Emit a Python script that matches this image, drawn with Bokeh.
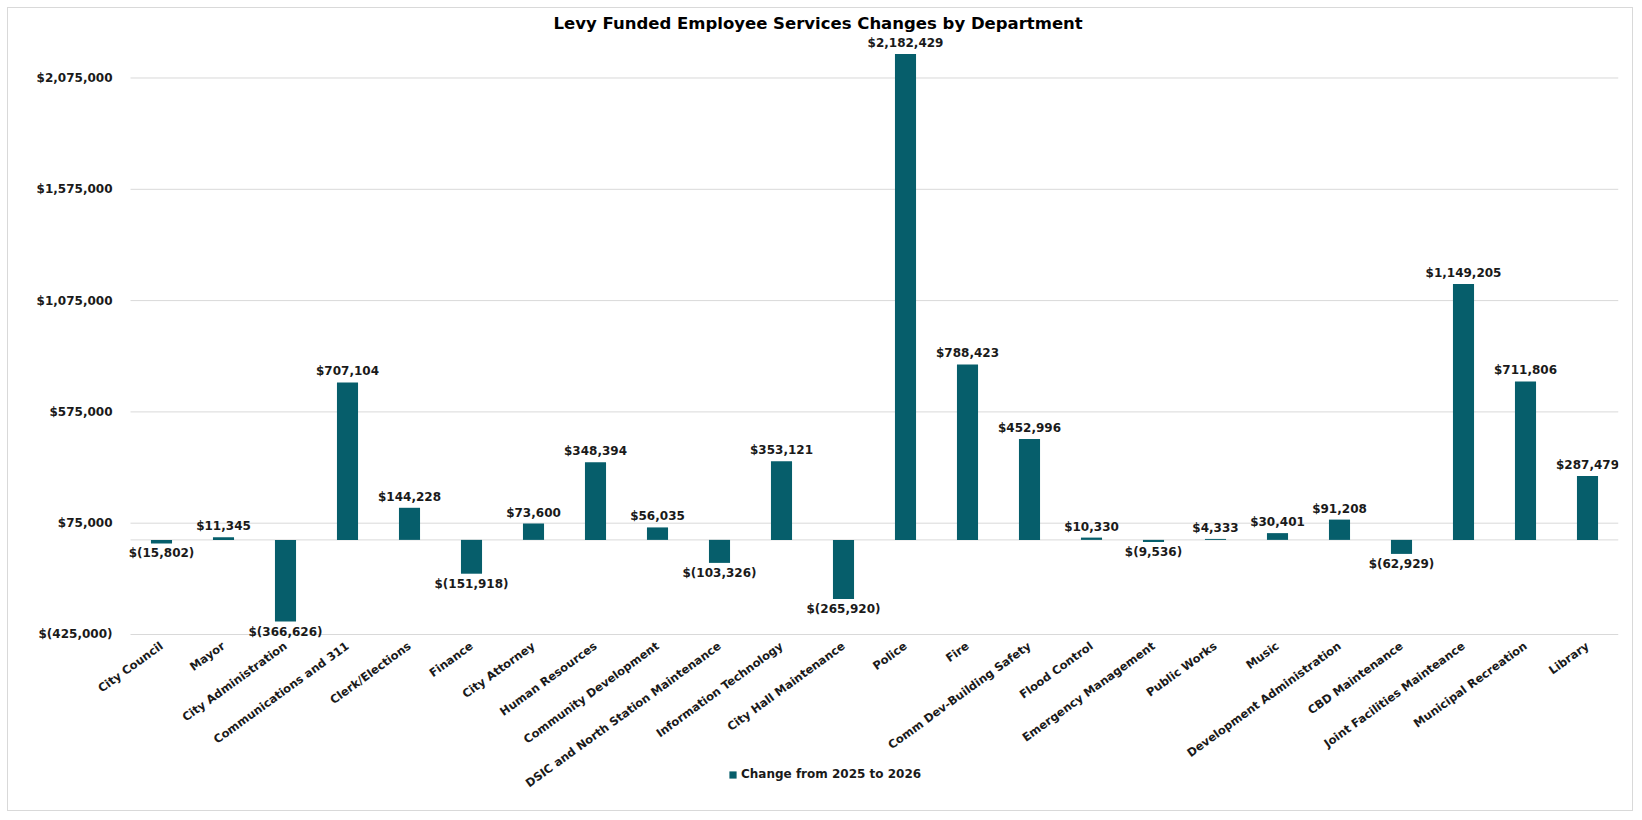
import math
from bokeh.plotting import figure
from bokeh.models import ColumnDataSource, Range1d, FixedTicker, Legend, LegendItem, Title
from bokeh.core.properties import value
from bokeh.embed import file_html
from bokeh.resources import INLINE

departments = [
    "City Council", "Mayor", "City Administration", "Communications and 311",
    "Clerk/Elections", "Finance", "City Attorney", "Human Resources",
    "Community Development", "DSIC and North Station Maintenance",
    "Information Technology", "City Hall Maintenance", "Police", "Fire",
    "Comm Dev-Building Safety", "Flood Control", "Emergency Management",
    "Public Works", "Music", "Development Administration", "CBD Maintenance",
    "Joint Facilities Mainteance", "Municipal Recreation", "Library",
]
changes = [
    -15802, 11345, -366626, 707104, 144228, -151918, 73600, 348394, 56035,
    -103326, 353121, -265920, 2182429, 788423, 452996, 10330, -9536, 4333,
    30401, 91208, -62929, 1149205, 711806, 287479,
]
y_ticks = [-425000, 75000, 575000, 1075000, 1575000, 2075000]
series_name = "Change from 2025 to 2026"
title_text = "Levy Funded Employee Services Changes by Department"


def money(v):
    return f"${v:,.0f}" if v >= 0 else f"$({-v:,.0f})"


FONT = "DejaVu Sans"
BAR = "#065E6B"
GRID = "#D9D9D9"
TXT = "#1A1A1A"

n = len(departments)
xs = list(range(n))
band_lo, band_hi = -0.5, n - 0.5
axis_min = y_ticks[0]

p = figure(
    x_range=Range1d(band_lo - 122 / 62, band_hi),
    y_range=Range1d(-1188700, 2270400),
    width=1626, height=804,
    output_backend="svg", toolbar_location=None,
    min_border_left=0, min_border_right=16, min_border_top=26, min_border_bottom=8,
)
p.title = Title(text=title_text, text_font=FONT, text_font_size="16.5px",
                text_font_style="bold", align="left", offset=545, standoff=3,
                text_color="#000000")

# horizontal gridlines (value ticks + category baseline at zero), limited to the category band
grid_levels = y_ticks + [0]
p.segment(x0=[band_lo] * len(grid_levels), x1=[band_hi] * len(grid_levels),
          y0=grid_levels, y1=grid_levels, line_color=GRID, line_width=1)

src = ColumnDataSource(dict(x=xs, y=changes))
r = p.vbar(x="x", top="y", bottom=0, width=0.34, source=src, fill_color=BAR, line_color=None)

pos = [(i, v) for i, v in zip(xs, changes) if v >= 0]
neg = [(i, v) for i, v in zip(xs, changes) if v < 0]
psrc = ColumnDataSource(dict(x=[i for i, _ in pos], y=[v for _, v in pos], t=[money(v) for _, v in pos]))
nsrc = ColumnDataSource(dict(x=[i for i, _ in neg], y=[v for _, v in neg], t=[money(v) for _, v in neg]))
p.text(x="x", y="y", text="t", source=psrc, text_align="center", text_baseline="bottom",
       y_offset=-4, text_font=value(FONT), text_font_size="12px", text_font_style="bold",
       text_color=TXT)
p.text(x="x", y="y", text="t", source=nsrc, text_align="center", text_baseline="top",
       y_offset=3, text_font=value(FONT), text_font_size="12px", text_font_style="bold",
       text_color=TXT)

p.yaxis.fixed_location = band_lo
p.yaxis.ticker = FixedTicker(ticks=y_ticks)
p.yaxis.major_label_overrides = {t: money(t) for t in y_ticks}
p.yaxis.axis_line_color = None
p.yaxis.major_tick_line_color = None
p.yaxis.minor_tick_line_color = None
p.yaxis.major_label_standoff = 12
p.yaxis.major_label_text_font = FONT
p.yaxis.major_label_text_font_size = "12px"
p.yaxis.major_label_text_font_style = "bold"
p.yaxis.major_label_text_color = TXT

p.xaxis.fixed_location = axis_min
p.xaxis.ticker = FixedTicker(ticks=xs)
p.xaxis.major_label_overrides = {i: d for i, d in zip(xs, departments)}
p.xaxis.axis_line_color = None
p.xaxis.major_tick_line_color = None
p.xaxis.minor_tick_line_color = None
p.xaxis.major_label_orientation = math.radians(36)
p.xaxis.major_label_standoff = 4
p.xaxis.major_label_text_font = FONT
p.xaxis.major_label_text_font_size = "11.5px"
p.xaxis.major_label_text_font_style = "bold"
p.xaxis.major_label_text_color = TXT

p.xgrid.grid_line_color = None
p.ygrid.grid_line_color = None
p.outline_line_color = None

legend = Legend(items=[LegendItem(label=series_name, renderers=[r])], location=(720, 23),
                orientation="horizontal", padding=0, margin=0, glyph_width=9, glyph_height=9,
                label_height=14, label_standoff=4, border_line_color=None,
                background_fill_alpha=0, label_text_font=FONT, label_text_font_size="12px",
                label_text_font_style="bold", label_text_color=TXT)
p.add_layout(legend, "center")

p.styles = {"margin": "7px 0 0 7px", "border": "1px solid #D9D9D9"}

open("out.html", "w").write(file_html(p, INLINE))
